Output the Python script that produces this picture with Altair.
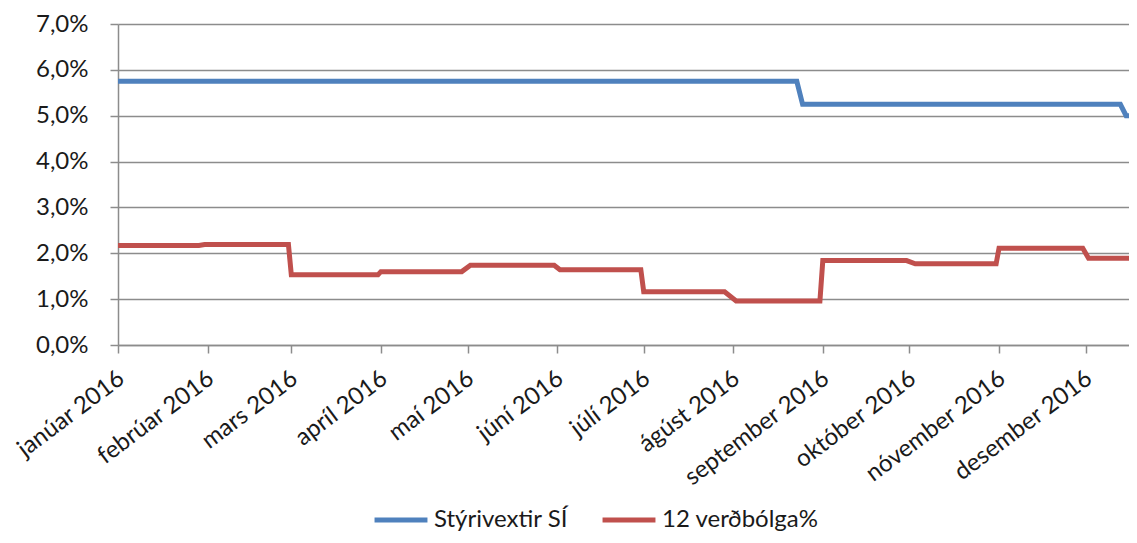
import altair as alt
import pandas as pd

series_names = ["Stýrivextir SÍ", "12 verðbólga%"]
series_colors = ["#4F81BD", "#C0504D"]

policy_dates = ["2016-01-01", "2016-08-23", "2016-08-25", "2016-12-13", "2016-12-15", "2016-12-16"]
policy_values = [5.75, 5.75, 5.25, 5.25, 5.00, 5.00]

infl_dates = ["2016-01-01", "2016-01-29", "2016-01-31", "2016-02-29", "2016-03-01", "2016-03-31",
              "2016-04-01", "2016-04-29", "2016-05-02", "2016-05-31", "2016-06-02", "2016-06-30",
              "2016-07-01", "2016-07-29", "2016-08-02", "2016-08-31", "2016-09-01", "2016-09-30",
              "2016-10-03", "2016-10-31", "2016-11-01", "2016-11-30", "2016-12-02", "2016-12-16"]
infl_values = [2.17, 2.17, 2.19, 2.19, 1.53, 1.53,
               1.60, 1.60, 1.74, 1.74, 1.64, 1.64,
               1.16, 1.16, 0.96, 0.96, 1.84, 1.84,
               1.77, 1.77, 2.11, 2.11, 1.89, 1.89]

month_labels = ["janúar 2016", "febrúar 2016", "mars 2016", "apríl 2016", "maí 2016", "júní 2016",
                "júlí 2016", "ágúst 2016", "september 2016", "október 2016", "nóvember 2016",
                "desember 2016"]
y_ticks = [0, 1, 2, 3, 4, 5, 6, 7]

df = pd.concat([
    pd.DataFrame({"date": policy_dates, "value": policy_values, "series": series_names[0]}),
    pd.DataFrame({"date": infl_dates, "value": infl_values, "series": series_names[1]}),
], ignore_index=True)

FONT = "Lato"
GRAY = "#8c8c8c"
TEXT = "#1a1a1a"
FS = 24
label_expr_x = "[" + ",".join("'" + m + "'" for m in month_labels) + "][utcmonth(datum.value)]"

x_enc = alt.X(
    "date:T",
    scale=alt.Scale(type="utc",
                    domain=[alt.DateTime(year=2016, month=1, date=1, utc=True),
                            alt.DateTime(year=2016, month=12, date=16, utc=True)]),
    axis=alt.Axis(
        values=[alt.DateTime(year=2016, month=m, date=1, utc=True) for m in range(1, 13)],
        labelExpr=label_expr_x,
        labelAngle=-37, labelAlign="right", labelBaseline="top",
        labelFontSize=FS, labelFont=FONT, labelColor=TEXT,
        labelPadding=13, labelOffset=-4, labelOverlap=False, labelBound=False, labelFlush=False,
        grid=False, domainColor=GRAY, domainWidth=1.5, tickColor=GRAY, tickWidth=1.5,
        tickSize=8, title=None,
    ),
)

y_enc = alt.Y(
    "value:Q",
    scale=alt.Scale(domain=[0, 7], nice=False, zero=True),
    axis=alt.Axis(
        values=y_ticks,
        labelExpr="replace(format(datum.value, '.1f'), '.', ',') + '%'",
        labelFontSize=FS, labelFont=FONT, labelColor=TEXT, labelPadding=22,
        grid=True, gridColor=GRAY, gridWidth=1.5,
        domainColor=GRAY, domainWidth=1.5, tickColor=GRAY, tickWidth=1.5, tickSize=8,
        title=None,
    ),
)

color_enc = alt.Color(
    "series:N",
    scale=alt.Scale(domain=series_names, range=series_colors),
    sort=series_names,
    legend=alt.Legend(
        orient="none", direction="horizontal", legendX=254, legendY=467,
        title=None, symbolType="stroke", symbolSize=2800, symbolStrokeWidth=5,
        labelFontSize=FS, labelFont=FONT, labelColor=TEXT, labelOffset=4,
        columnPadding=24, labelLimit=400,
    ),
)

chart = alt.Chart(df).mark_line(strokeWidth=5, clip=True).encode(
    x=x_enc, y=y_enc, color=color_enc, detail="series:N"
).properties(
    width=1011, height=321,
    autosize=alt.AutoSizeParams(type="none"),
    padding={"left": 110, "top": 16, "right": 0, "bottom": 190},
).configure_view(stroke=None)

chart.save("out.html", embed_options={"renderer": "svg", "actions": False})
